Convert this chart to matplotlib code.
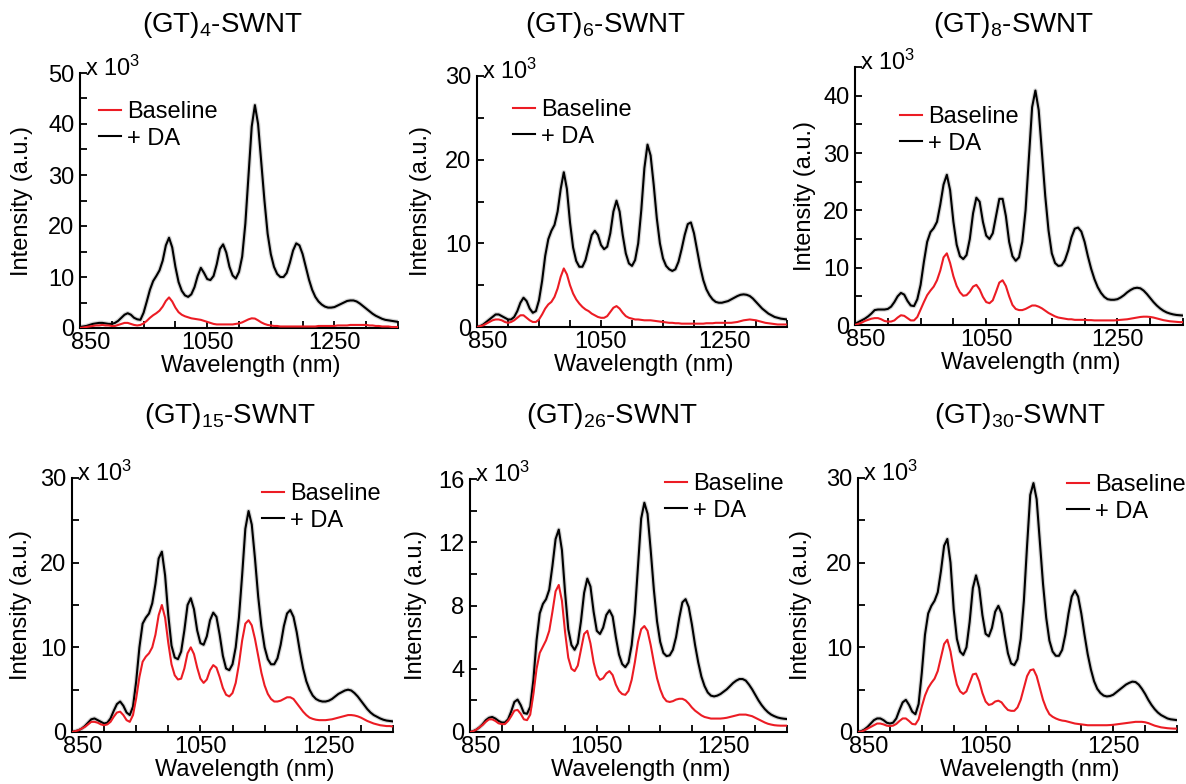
import numpy as np
import matplotlib.pyplot as plt
import matplotlib.transforms as mtransforms
from matplotlib.ticker import MultipleLocator

plt.rcParams['font.family'] = ['Liberation Sans', 'DejaVu Sans']
plt.rcParams['mathtext.fontset'] = 'custom'
plt.rcParams['mathtext.rm'] = 'Liberation Sans'
plt.rcParams['mathtext.it'] = 'Liberation Sans:italic'

# sampling grid of the spectra (nm)
wavelength = np.arange(850, 1351, 5)

# intensities in units of 10^3 a.u., every 5 nm
base_gt4 = [0.0, 0.1, 0.2, 0.3, 0.4, 0.5, 0.5, 0.6, 0.5, 0.5,
            0.4, 0.4, 0.6, 0.8, 1.0, 1.0, 0.8, 0.6, 0.5, 0.6,
            0.9, 1.4, 2.0, 2.5, 2.9, 3.4, 4.2, 5.3, 6.0, 5.2,
            4.0, 3.1, 2.6, 2.3, 2.1, 1.9, 1.8, 1.7, 1.6, 1.4,
            1.2, 1.0, 0.8, 0.7, 0.7, 0.7, 0.7, 0.7, 0.7, 0.8,
            0.9, 1.1, 1.4, 1.7, 1.9, 1.85, 1.5, 1.1, 0.8, 0.6,
            0.5, 0.4, 0.4, 0.3, 0.3, 0.3, 0.3, 0.3, 0.3, 0.3,
            0.3, 0.3, 0.3, 0.3, 0.3, 0.4, 0.4, 0.4, 0.4, 0.4,
            0.4, 0.5, 0.5, 0.5, 0.5, 0.6, 0.6, 0.6, 0.6, 0.6,
            0.6, 0.5, 0.5, 0.4, 0.4, 0.3, 0.3, 0.3, 0.2, 0.2,
            0.2]
da_gt4 = [0.2, 0.3, 0.4, 0.6, 0.8, 0.9, 1.0, 1.0, 0.9, 0.8,
          0.8, 1.0, 1.4, 2.0, 2.6, 2.9, 2.6, 2.0, 1.7, 1.6,
          3.0, 5.2, 7.5, 9.2, 10.2, 11.3, 13.2, 16.2, 17.7, 15.8,
          12.0, 9.0, 7.3, 6.4, 6.1, 6.6, 8.0, 10.2, 11.8, 10.8,
          9.6, 9.4, 10.2, 12.5, 15.5, 16.4, 14.8, 12.0, 10.3, 9.7,
          11.0, 14.0, 20.5, 30.0, 39.5, 43.7, 40.0, 32.5, 25.0, 18.5,
          14.5, 12.0, 10.6, 10.0, 10.0, 10.8, 12.8, 15.2, 16.6, 16.2,
          14.5, 12.0, 9.5, 7.5, 6.1, 5.2, 4.6, 4.2, 4.0, 4.0,
          4.1, 4.4, 4.7, 5.0, 5.3, 5.4, 5.4, 5.2, 4.8, 4.3,
          3.8, 3.3, 2.8, 2.4, 2.1, 1.8, 1.6, 1.5, 1.4, 1.3,
          1.2]

base_gt6 = [0.0, 0.1, 0.2, 0.4, 0.6, 0.8, 0.9, 0.9, 0.8, 0.6,
            0.5, 0.6, 0.8, 1.1, 1.4, 1.4, 1.1, 0.8, 0.6, 0.6,
            0.9, 1.5, 2.2, 2.7, 3.0, 3.6, 4.6, 6.0, 7.0, 6.3,
            5.0, 4.0, 3.3, 2.8, 2.4, 2.1, 1.9, 1.6, 1.4, 1.2,
            1.1, 1.1, 1.3, 1.8, 2.3, 2.5, 2.2, 1.7, 1.3, 1.1,
            1.0, 0.9, 0.9, 0.85, 0.8, 0.8, 0.8, 0.75, 0.7, 0.65,
            0.6, 0.55, 0.5, 0.5, 0.45, 0.45, 0.4, 0.4, 0.4, 0.4,
            0.4, 0.4, 0.4, 0.4, 0.45, 0.45, 0.45, 0.5, 0.5, 0.5,
            0.5, 0.5, 0.5, 0.55, 0.6, 0.7, 0.8, 0.85, 0.9, 0.85,
            0.8, 0.7, 0.6, 0.5, 0.45, 0.4, 0.35, 0.3, 0.3, 0.3,
            0.3]
da_gt6 = [0.0, 0.1, 0.3, 0.6, 0.9, 1.2, 1.5, 1.5, 1.3, 1.1,
          0.9, 0.9, 1.2, 1.9, 2.9, 3.5, 3.1, 2.2, 1.7, 1.9,
          3.2, 5.5, 8.5, 10.5, 11.5, 12.2, 13.8, 16.5, 18.5, 16.5,
          12.5, 9.5, 7.9, 7.2, 7.2, 8.0, 9.5, 11.0, 11.5, 11.0,
          9.8, 9.3, 9.6, 11.2, 13.8, 15.1, 13.8, 11.0, 8.8, 7.6,
          7.3, 8.0, 10.0, 14.0, 19.0, 21.8, 20.5, 17.0, 13.0, 10.0,
          8.2, 7.3, 6.9, 6.7, 6.9, 7.8, 9.3, 11.0, 12.3, 12.5,
          11.2, 9.2, 7.2, 5.6, 4.5, 3.8, 3.3, 3.0, 2.9, 2.9,
          3.0, 3.1, 3.3, 3.5, 3.7, 3.85, 3.9, 3.85, 3.7, 3.4,
          3.0, 2.6, 2.2, 1.9, 1.6, 1.4, 1.2, 1.1, 1.0, 0.95,
          0.9]

base_gt8 = [0.0, 0.2, 0.4, 0.7, 0.9, 1.1, 1.2, 1.2, 1.0, 0.7,
            0.6, 0.6, 0.8, 1.3, 1.7, 1.6, 1.2, 0.8, 0.8, 1.4,
            2.7, 4.0, 5.2, 6.0, 6.7, 7.8, 9.5, 11.8, 12.5, 10.8,
            8.5, 6.8, 5.7, 5.1, 5.2, 5.8, 6.7, 7.0, 6.2, 4.9,
            4.0, 3.8, 4.3, 5.8, 7.4, 7.8, 6.8, 5.0, 3.5, 2.8,
            2.6, 2.6, 2.8, 3.1, 3.4, 3.4, 3.2, 2.9, 2.5, 2.1,
            1.8, 1.5, 1.3, 1.2, 1.1, 1.0, 1.0, 0.9, 0.9, 0.9,
            0.9, 0.85, 0.85, 0.8, 0.8, 0.8, 0.8, 0.8, 0.8, 0.8,
            0.85, 0.9, 0.95, 1.0, 1.1, 1.2, 1.3, 1.4, 1.45, 1.45,
            1.4, 1.3, 1.15, 1.0, 0.85, 0.75, 0.65, 0.6, 0.55, 0.5,
            0.5]
da_gt8 = [0.2, 0.5, 0.8, 1.1, 1.5, 2.0, 2.6, 2.7, 2.7, 2.7,
          2.8, 3.2, 4.0, 5.0, 5.6, 5.3, 4.2, 3.4, 3.3, 4.5,
          7.0, 11.0, 14.5, 16.2, 16.9, 18.0, 21.0, 24.5, 26.2, 23.5,
          18.0, 14.0, 12.0, 11.5, 12.2, 15.0, 19.5, 22.2, 21.5, 18.0,
          15.6, 15.0, 16.0, 19.0, 22.0, 22.0, 19.0, 14.5, 12.0, 11.2,
          11.8, 14.5, 20.0, 29.0, 38.0, 40.9, 37.5, 30.0, 22.5, 16.5,
          12.5, 10.8, 10.3, 10.4, 11.3, 13.0, 15.3, 16.8, 17.0, 16.3,
          14.5, 12.0, 9.8, 8.0, 6.6, 5.6, 4.9, 4.5, 4.4, 4.4,
          4.5, 4.8, 5.2, 5.7, 6.1, 6.4, 6.5, 6.4, 6.0, 5.4,
          4.7, 4.0, 3.4, 2.9, 2.5, 2.2, 2.0, 1.85, 1.75, 1.7,
          1.65]

base_gt15 = [0.0, 0.1, 0.2, 0.4, 0.6, 0.9, 1.2, 1.2, 1.1, 0.9,
             0.8, 0.9, 1.2, 1.8, 2.3, 2.4, 2.0, 1.4, 1.2, 2.0,
             4.0, 6.5, 8.3, 8.9, 9.3, 10.0, 11.5, 13.8, 15.0, 13.5,
             10.5, 8.0, 6.7, 6.2, 6.3, 7.5, 9.3, 10.0, 9.2, 7.6,
             6.3, 5.8, 6.2, 7.3, 7.9, 7.6, 6.5, 5.2, 4.4, 4.2,
             4.6, 5.8, 8.0, 10.8, 12.8, 13.2, 12.6, 11.0, 9.0, 7.0,
             5.5, 4.5, 3.9, 3.6, 3.6, 3.7, 3.9, 4.1, 4.1, 3.9,
             3.4, 2.9, 2.4, 2.0, 1.7, 1.55, 1.45, 1.4, 1.4, 1.4,
             1.45, 1.5, 1.6, 1.7, 1.8, 1.9, 2.0, 2.0, 1.95, 1.85,
             1.7, 1.5, 1.3, 1.15, 1.0, 0.9, 0.8, 0.75, 0.7, 0.7,
             0.65]
da_gt15 = [0.0, 0.1, 0.2, 0.4, 0.7, 1.1, 1.5, 1.6, 1.4, 1.2,
           1.0, 1.1, 1.6, 2.5, 3.3, 3.6, 3.1, 2.3, 2.0, 3.0,
           6.0, 10.0, 12.8, 13.5, 14.0, 15.2, 17.5, 20.5, 21.3, 18.5,
           13.8, 10.2, 8.8, 8.6, 9.5, 12.0, 15.0, 15.8, 14.5, 12.0,
           10.5, 10.3, 11.3, 13.2, 14.1, 13.6, 11.5, 9.0, 7.5, 7.3,
           8.0, 10.0, 13.5, 18.5, 24.0, 26.1, 24.5, 20.5, 16.0, 12.5,
           10.0, 8.6, 8.0, 8.0, 8.7, 10.3, 12.5, 14.0, 14.4, 13.6,
           11.8, 9.5, 7.5, 6.0, 5.0, 4.3, 3.9, 3.7, 3.6, 3.6,
           3.7, 3.9, 4.2, 4.5, 4.7, 4.9, 5.0, 4.9, 4.6, 4.2,
           3.7, 3.2, 2.7, 2.3, 2.0, 1.8, 1.6, 1.45, 1.35, 1.3,
           1.25]

base_gt26 = [0.0, 0.05, 0.15, 0.3, 0.45, 0.65, 0.8, 0.8, 0.7, 0.55,
             0.5, 0.5, 0.7, 1.0, 1.35, 1.4, 1.15, 0.8, 0.75, 1.1,
             2.4, 4.0, 5.0, 5.4, 5.8, 6.4, 7.6, 8.9, 9.3, 8.3,
             6.3, 4.7, 4.0, 3.85, 4.2, 5.2, 6.2, 6.4, 5.6, 4.4,
             3.6, 3.3, 3.4, 3.7, 3.85, 3.6, 3.0, 2.6, 2.4, 2.35,
             2.6, 3.3, 4.4, 5.7, 6.5, 6.7, 6.4, 5.5, 4.4, 3.4,
             2.7, 2.2, 1.95, 1.9, 1.95, 2.05, 2.1, 2.1, 2.0, 1.8,
             1.55, 1.35, 1.2, 1.05, 0.95, 0.9, 0.85, 0.85, 0.85, 0.85,
             0.87, 0.9, 0.95, 1.0, 1.05, 1.1, 1.1, 1.1, 1.05, 1.0,
             0.9, 0.8, 0.7, 0.6, 0.52, 0.47, 0.43, 0.41, 0.4, 0.4,
             0.4]
da_gt26 = [0.0, 0.05, 0.15, 0.3, 0.5, 0.75, 0.9, 0.95, 0.85, 0.7,
           0.6, 0.6, 0.8, 1.3, 1.9, 2.05, 1.7, 1.2, 1.15, 1.6,
           3.3, 5.8, 7.5, 8.1, 8.4, 9.0, 10.5, 12.2, 12.8, 11.5,
           8.8, 6.5, 5.5, 5.2, 5.6, 7.0, 8.8, 9.7, 9.2, 7.6,
           6.4, 6.2, 6.6, 7.4, 7.7, 7.3, 6.0, 4.9, 4.3, 4.1,
           4.4, 5.5, 7.5, 10.5, 13.5, 14.5, 13.8, 11.5, 9.0, 7.0,
           5.7, 5.0, 4.8, 4.85, 5.2, 6.0, 7.2, 8.2, 8.4, 7.9,
           6.8, 5.5, 4.4, 3.5, 2.9, 2.5, 2.3, 2.25, 2.3, 2.4,
           2.55, 2.7, 2.9, 3.1, 3.25, 3.35, 3.35, 3.25, 3.0, 2.7,
           2.35, 2.0, 1.7, 1.45, 1.25, 1.1, 1.0, 0.92, 0.87, 0.84,
           0.82]

base_gt30 = [0.0, 0.05, 0.2, 0.4, 0.6, 0.8, 1.0, 1.0, 0.9, 0.75,
             0.7, 0.75, 0.95, 1.3, 1.6, 1.6, 1.3, 0.95, 0.9, 1.5,
             3.0, 4.3, 5.2, 5.8, 6.3, 7.2, 8.8, 10.4, 10.9, 9.5,
             7.3, 5.6, 4.8, 4.5, 4.8, 5.8, 6.8, 6.9, 6.0, 4.6,
             3.6, 3.2, 3.3, 3.6, 3.7, 3.5, 3.0, 2.6, 2.5, 2.5,
             2.9, 3.8, 5.2, 6.6, 7.3, 7.4, 6.6, 5.2, 3.8, 2.8,
             2.1, 1.8, 1.6, 1.45, 1.35, 1.3, 1.2, 1.1, 1.0, 0.95,
             0.9, 0.85, 0.8, 0.8, 0.8, 0.8, 0.8, 0.8, 0.8, 0.82,
             0.85, 0.9, 0.95, 1.0, 1.05, 1.1, 1.15, 1.2, 1.2, 1.2,
             1.15, 1.05, 0.9, 0.75, 0.65, 0.55, 0.5, 0.45, 0.42, 0.4,
             0.4]
da_gt30 = [0.0, 0.1, 0.3, 0.6, 1.0, 1.4, 1.6, 1.6, 1.4, 1.1,
           1.0, 1.1, 1.6, 2.6, 3.5, 3.8, 3.2, 2.4, 2.1, 3.3,
           7.0, 11.5, 14.0, 14.9, 15.5, 16.5, 19.0, 22.0, 22.8, 20.0,
           14.5, 11.0, 9.5, 9.1, 10.0, 13.0, 17.0, 18.5, 17.0, 13.8,
           11.6, 11.3, 12.3, 14.2, 14.9, 14.0, 11.5, 9.3, 8.1, 7.9,
           8.6, 11.0, 15.5, 22.0, 28.0, 29.4, 27.5, 22.5, 17.5, 13.5,
           10.8, 9.5, 9.0, 9.0, 9.7, 11.5, 14.0, 16.0, 16.7, 16.0,
           14.0, 11.5, 9.2, 7.4, 6.0, 5.1, 4.6, 4.3, 4.2, 4.25,
           4.4, 4.7, 5.0, 5.3, 5.6, 5.8, 5.95, 5.9, 5.6, 5.1,
           4.5, 3.8, 3.2, 2.7, 2.3, 2.0, 1.8, 1.6, 1.5, 1.45,
           1.4]

titles = ['4', '6', '8', '15', '26', '30']
baselines = [base_gt4, base_gt6, base_gt8, base_gt15, base_gt26, base_gt30]
with_da = [da_gt4, da_gt6, da_gt8, da_gt15, da_gt26, da_gt30]
y_max = [50, 30, 45, 30, 16, 30]
y_label_step = [10, 10, 10, 10, 4, 10]
y_minor_step = [5, 5, 5, 5, 2, 5]

RED = '#ec1c24'
W, H = 1186, 784
FS = 17

# axes boxes in pixels: left, right, top, bottom
boxes = [(80, 398, 73, 328), (477, 787, 76, 327), (855, 1183, 67, 325),
         (72, 393, 478, 732), (470, 787, 479, 732), (858, 1177, 478, 732)]
title_xy = [(223, 25), (606, 25), (1014, 25), (230, 416), (612, 416), (1020, 416)]
legend_xy = [(99, 101), (513, 99), (900, 106), (262, 483), (665, 473), (1067, 474)]
ylabel_dx = [58, 56, 50, 51, 54, 57]

fig = plt.figure(figsize=(W / 100, H / 100), dpi=100)

for i in range(6):
    l, r, t, b = boxes[i]
    wpx, hpx = r - l, b - t
    ax = fig.add_axes([l / W, 1 - b / H, wpx / W, hpx / H])

    # faint grey halo standing in for the error band
    ax.plot(wavelength, with_da[i], color='#d6d6d6', lw=3.2, zorder=1)
    hd, = ax.plot(wavelength, with_da[i], color='black', lw=1.5, zorder=2)
    hb, = ax.plot(wavelength, baselines[i], color=RED, lw=1.5, zorder=3)

    ax.set_xlim(850, 1350)
    ax.set_ylim(0, y_max[i])
    ax.set_xticks([850, 1050, 1250])
    ax.xaxis.set_minor_locator(MultipleLocator(50))
    ax.yaxis.set_major_locator(MultipleLocator(y_label_step[i]))
    ax.yaxis.set_minor_locator(MultipleLocator(y_minor_step[i]))
    ax.tick_params(which='both', direction='in', length=5, width=1.3)
    ax.tick_params(axis='x', labelsize=FS, pad=3)
    ax.tick_params(axis='y', labelsize=FS, pad=4)
    for side in ['top', 'right']:
        ax.spines[side].set_visible(False)
    for side in ['left', 'bottom']:
        ax.spines[side].set_linewidth(1.5)

    # first wavelength label sits a little to the right, clear of the "0"
    first = ax.xaxis.get_major_ticks()[0].label1
    first.set_transform(first.get_transform() +
                        mtransforms.ScaledTranslation(0.11, 0, fig.dpi_scale_trans))

    ax.set_xlabel('Wavelength (nm)', fontsize=FS, va='center')
    ax.xaxis.set_label_coords(0.5 + 12 / wpx, -38 / hpx)
    ax.set_ylabel('Intensity (a.u.)', fontsize=FS, va='center')
    ax.yaxis.set_label_coords(-ylabel_dx[i] / wpx, 0.5)

    ax.text(5 / wpx, 1 - 3 / hpx, r'x 10$^{\mathregular{3}}$', transform=ax.transAxes,
            ha='left', va='baseline', fontsize=FS)

    lx, ly = legend_xy[i]
    ax.legend([hb, hd], ['Baseline', '+ DA'], loc='upper left',
              bbox_to_anchor=(lx / W, 1 - ly / H), bbox_transform=fig.transFigure,
              frameon=False, fontsize=FS, handlelength=0.95, handletextpad=0.25,
              labelspacing=0.2, borderpad=0, borderaxespad=0)

    tx, ty = title_xy[i]
    fig.text(tx / W, 1 - ty / H, r'(GT)$_{\mathregular{%s}}$-SWNT' % titles[i],
             ha='center', va='center', fontsize=20)

fig.savefig('out.png', dpi=100)
